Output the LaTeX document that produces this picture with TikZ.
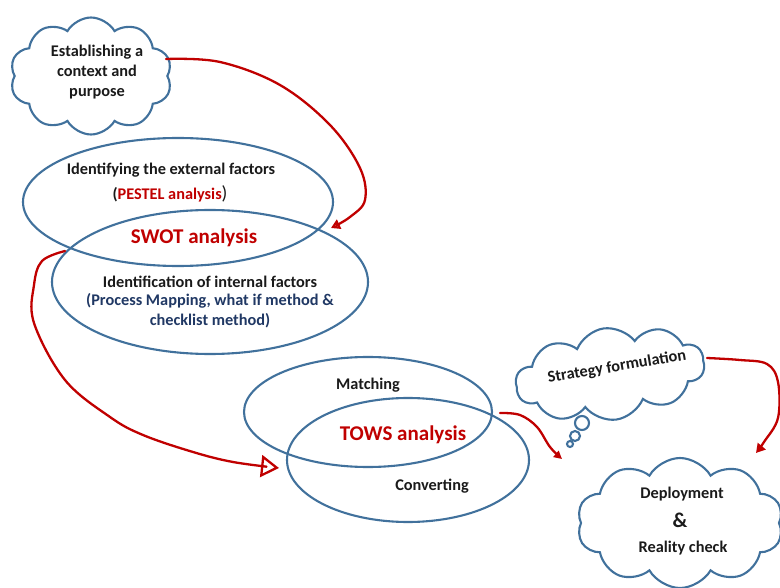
\documentclass[tikz,border=0pt]{standalone}
\usepackage{fontspec}
\setmainfont{Carlito}
\usetikzlibrary{shapes.geometric,shapes.symbols,arrows.meta}
\definecolor{oblue}{HTML}{41719C}
\definecolor{ored}{HTML}{C00000}
\definecolor{navy}{HTML}{203864}
\definecolor{ink}{HTML}{1A1A1A}
\begin{document}
\begin{tikzpicture}[x=1pt,y=-1pt,
  outl/.style={draw=oblue,line width=2.1pt},
  ell/.style={outl,ellipse,inner sep=0pt},
  cloudy/.style={outl,cloud,cloud puffs=10,cloud puff arc=120,cloud ignores aspect,inner sep=0pt},
  txt/.style={font=\fontsize{16.3}{20}\selectfont\bfseries,text=ink,align=center,inner sep=0pt},
  big/.style={font=\fontsize{21}{24}\selectfont\bfseries,text=ored,inner sep=0pt},
  flow/.style={draw=ored,line width=2.3pt,line cap=round,line join=round}]
\useasboundingbox (0,0) rectangle (780,588);
\clip (0,0) rectangle (780,588);
% cloud 1
\node[cloudy,minimum width=162,minimum height=117] (c1) at (91,76) {};
\node[txt] (c1t) at (97,72) {Establishing a\\context and\\purpose};
% SWOT ellipses
\node[ell,minimum width=310,minimum height=128] (e1) at (178,202) {};
\node[ell,minimum width=316,minimum height=144] (e2) at (210,282) {};
\node[txt] (x1) at (171,170) {Identifying the external factors};
\node[txt] (x2) at (170,194) {(\textcolor{ored}{PESTEL analysis}{\mdseries\fontsize{19}{20}\selectfont)}};
\node[big] (swot) at (194,238) {SWOT analysis};
\node[txt] (x3) at (210,282) {Identification of internal factors};
\node[txt,text=navy] (x4) at (210,311) {(Process Mapping, what if method \&\\checklist method)};
% TOWS ellipses
\node[ell,minimum width=248,minimum height=110] (t1) at (368,412) {};
\node[ell,minimum width=242,minimum height=124] (t2) at (408,460) {};
\node[txt] (m) at (368,385) {Matching};
\node[big] (tows) at (403,435) {TOWS analysis};
\node[txt] (cv) at (432,486) {Converting};
% strategy cloud
\node[cloudy,minimum width=190,minimum height=92,rotate=8] (c2) at (610,374) {};
\node[txt,rotate=9.5] (c2t) at (617,367) {Strategy formulation};
\node[outl,circle,minimum size=14,inner sep=0pt] (b1) at (582,423) {};
\node[outl,circle,minimum size=10,inner sep=0pt] (b2) at (575,436) {};
\node[outl,circle,minimum size=6,inner sep=0pt] (b3) at (570,444) {};
% deployment cloud
\node[cloudy,minimum width=206,minimum height=130] (c3) at (680,523) {};
\node[txt] (d1) at (682,494) {Deployment};
\node[txt,font=\fontsize{21}{22}\selectfont\bfseries] (d2) at (680,520) {\&};
\node[txt] (d3) at (683,548) {Reality check};
% arrows
\coordinate (a1s) at (166,59);
\coordinate (a1e) at (331,228);
\draw[flow,-{Triangle[open,length=9pt,width=10pt]}] plot[smooth,tension=0.6] coordinates {(a1s) (220,62) (280,85) (330,125) (360,168) (365,200) (350,217) (a1e)};
\coordinate (a2s) at (65,251);
\coordinate (a2e) at (279,468);
\draw[flow,-{Triangle[open,length=18pt,width=22pt]}] plot[smooth,tension=0.6] coordinates {(a2s) (42,261) (34,285) (34,323) (65,380) (110,417) (143,435) (193,452) (233,462) (a2e)};
\coordinate (a3s) at (500,413);
\coordinate (a3e) at (562,459);
\draw[flow,-{Triangle[open,length=8pt,width=8pt]}] plot[smooth,tension=0.6] coordinates {(a3s) (520,415) (537,427) (550,447) (a3e)};
\coordinate (a4s) at (707,358);
\coordinate (a4e) at (756,453);
\draw[flow,-{Triangle[open,length=9pt,width=10pt]}] plot[smooth,tension=0.6] coordinates {(a4s) (740,360) (767,364) (778,382) (778,418) (764,442) (a4e)};
\end{tikzpicture}
\end{document}
